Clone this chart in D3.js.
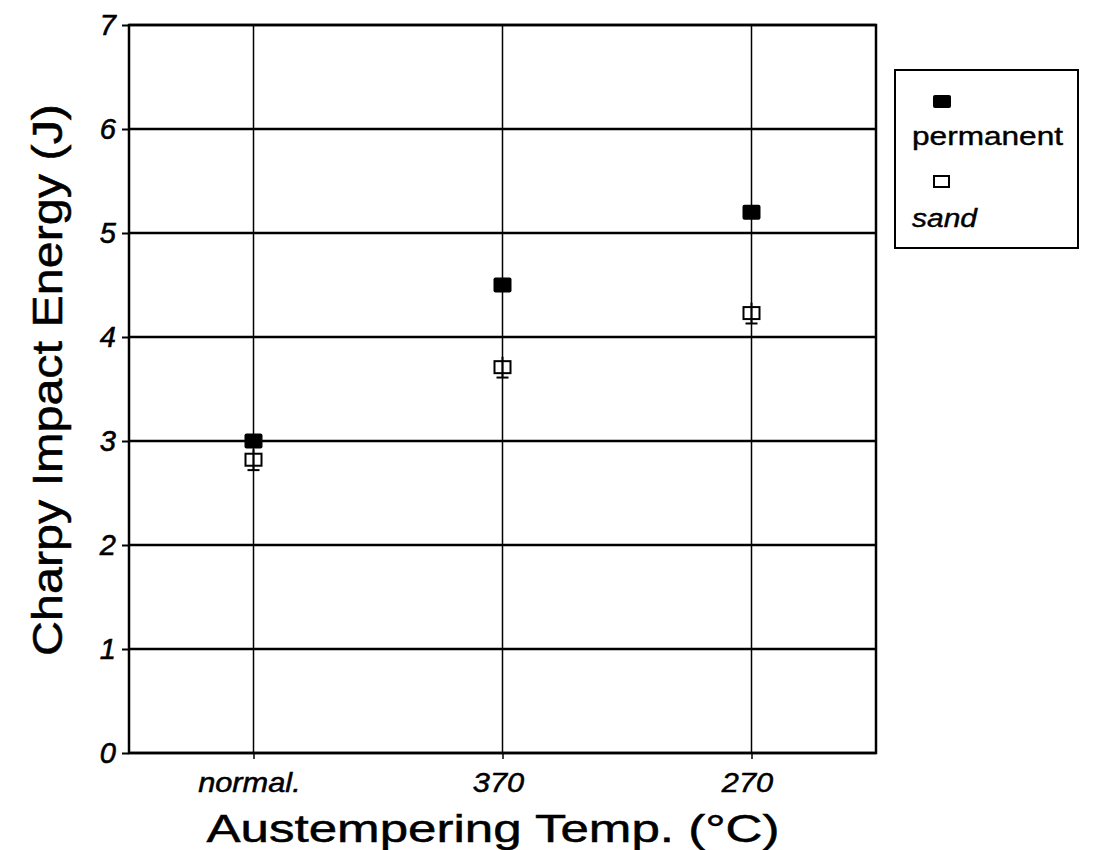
<!DOCTYPE html>
<html>
<head>
<meta charset="utf-8">
<script src="https://cdn.jsdelivr.net/npm/d3@7"></script>
<style>
    body { margin: 0; background: #fff; }
    svg { display: block; font-family: "Liberation Sans", Arial, sans-serif; }
</style>
</head>
<body>
<div id="div_svg"></div>
<script>
// data
var categorias = ["normal.", "370", "270"];
var permanent = [3.0, 4.5, 5.2];
var sand = [2.82, 3.71, 4.23];
var sand_err = [0.1, 0.1, 0.1];
var y_ticks = [0, 1, 2, 3, 4, 5, 6, 7];

var w = 1095, h = 850;
var margin = { top: 25, right: 219, bottom: 97, left: 129 };

var svg = d3.select("#div_svg")
    .append("svg")
    .attr("width", w)
    .attr("height", h);

var x = d3.scalePoint()
    .domain(categorias)
    .range([margin.left, w - margin.right])
    .padding(0.5);

var y = d3.scaleLinear()
    .domain([0, 7])
    .range([h - margin.bottom, margin.top]);

// horizontal grid
svg.append("g")
    .selectAll("line")
    .data(y_ticks)
    .join("line")
    .attr("x1", margin.left)
    .attr("x2", w - margin.right)
    .attr("y1", d => y(d))
    .attr("y2", d => y(d))
    .attr("stroke", "#000")
    .attr("stroke-width", 2.5);

// vertical lines at each category
svg.append("g")
    .selectAll("line")
    .data(categorias)
    .join("line")
    .attr("x1", d => x(d))
    .attr("x2", d => x(d))
    .attr("y1", margin.top)
    .attr("y2", h - margin.bottom)
    .attr("stroke", "#000")
    .attr("stroke-width", 1.5);

// frame
svg.append("rect")
    .attr("x", margin.left)
    .attr("y", margin.top)
    .attr("width", w - margin.left - margin.right)
    .attr("height", h - margin.top - margin.bottom)
    .attr("fill", "none")
    .attr("stroke", "#000")
    .attr("stroke-width", 2.5);

// y axis
var yAxis = svg.append("g")
    .attr("transform", "translate(" + margin.left + ",0)")
    .call(d3.axisLeft(y).tickValues(y_ticks).tickFormat(d3.format("d")).tickSize(7).tickPadding(6));
yAxis.select(".domain").remove();
yAxis.selectAll("line").attr("stroke-width", 2);
yAxis.selectAll("text")
    .attr("fill", "#000")
    .attr("stroke", "#000")
    .attr("stroke-width", 0.6)
    .attr("font-size", 29)
    .attr("font-style", "italic")
    .attr("font-family", "Liberation Sans, Arial, sans-serif");

// x axis
var xAxis = svg.append("g")
    .attr("transform", "translate(0," + (h - margin.bottom) + ")")
    .call(d3.axisBottom(x).tickSize(6).tickPadding(14));
xAxis.select(".domain").remove();
xAxis.selectAll("line").attr("stroke-width", 1.5);
xAxis.selectAll("text")
    .attr("fill", "#000")
    .attr("stroke", "#000")
    .attr("stroke-width", 0.5)
    .attr("font-size", 27)
    .attr("font-style", "italic")
    .attr("font-family", "Liberation Sans, Arial, sans-serif")
    .attr("transform", "scale(1.14,1)")
    .attr("x", -4);

// sand series: error bars + open squares
var s = svg.append("g");
s.selectAll("line.err")
    .data(sand)
    .join("line")
    .attr("class", "err")
    .attr("x1", (d, i) => x(categorias[i]))
    .attr("x2", (d, i) => x(categorias[i]))
    .attr("y1", (d, i) => y(d - sand_err[i]))
    .attr("y2", (d, i) => y(d + sand_err[i]))
    .attr("stroke", "#000")
    .attr("stroke-width", 2);
s.selectAll("line.cap")
    .data(sand)
    .join("line")
    .attr("class", "cap")
    .attr("x1", (d, i) => x(categorias[i]) - 6)
    .attr("x2", (d, i) => x(categorias[i]) + 6)
    .attr("y1", (d, i) => y(d - sand_err[i]))
    .attr("y2", (d, i) => y(d - sand_err[i]))
    .attr("stroke", "#000")
    .attr("stroke-width", 2);
s.selectAll("rect")
    .data(sand)
    .join("rect")
    .attr("x", (d, i) => x(categorias[i]) - 8)
    .attr("y", d => y(d) - 6)
    .attr("width", 16)
    .attr("height", 12)
    .attr("fill", "none")
    .attr("stroke", "#000")
    .attr("stroke-width", 2);

// permanent series: filled squares
svg.append("g")
    .selectAll("rect")
    .data(permanent)
    .join("rect")
    .attr("x", (d, i) => x(categorias[i]) - 9)
    .attr("y", d => y(d) - 7.5)
    .attr("width", 18)
    .attr("height", 15)
    .attr("rx", 2)
    .attr("fill", "#000");

// axis titles
svg.append("text")
    .attr("transform", "translate(62,380) rotate(-90)")
    .attr("text-anchor", "middle")
    .attr("font-size", 42)
    .attr("stroke", "#000")
    .attr("stroke-width", 0.5)
    .attr("textLength", 552)
    .attr("lengthAdjust", "spacingAndGlyphs")
    .text("Charpy Impact Energy (J)");

svg.append("text")
    .attr("x", 493)
    .attr("y", 842)
    .attr("text-anchor", "middle")
    .attr("font-size", 39)
    .attr("stroke", "#000")
    .attr("stroke-width", 0.5)
    .attr("textLength", 573)
    .attr("lengthAdjust", "spacingAndGlyphs")
    .text("Austempering Temp. (\u00B0C)");

// legend
var leg = svg.append("g");
leg.append("rect")
    .attr("x", 895)
    .attr("y", 70)
    .attr("width", 183)
    .attr("height", 178)
    .attr("fill", "#fff")
    .attr("stroke", "#000")
    .attr("stroke-width", 2);
leg.append("rect")
    .attr("x", 933)
    .attr("y", 95)
    .attr("width", 18)
    .attr("height", 13)
    .attr("rx", 2)
    .attr("fill", "#000");
leg.append("text")
    .attr("x", 912)
    .attr("y", 145)
    .attr("font-size", 25)
    .attr("stroke", "#000")
    .attr("stroke-width", 0.4)
    .attr("textLength", 151)
    .attr("lengthAdjust", "spacingAndGlyphs")
    .text("permanent");
leg.append("rect")
    .attr("x", 934)
    .attr("y", 176)
    .attr("width", 15)
    .attr("height", 11)
    .attr("fill", "none")
    .attr("stroke", "#000")
    .attr("stroke-width", 2);
leg.append("text")
    .attr("x", 912)
    .attr("y", 227)
    .attr("font-size", 25)
    .attr("font-style", "italic")
    .attr("stroke", "#000")
    .attr("stroke-width", 0.4)
    .attr("textLength", 65)
    .attr("lengthAdjust", "spacingAndGlyphs")
    .text("sand");
</script>
</body>
</html>
